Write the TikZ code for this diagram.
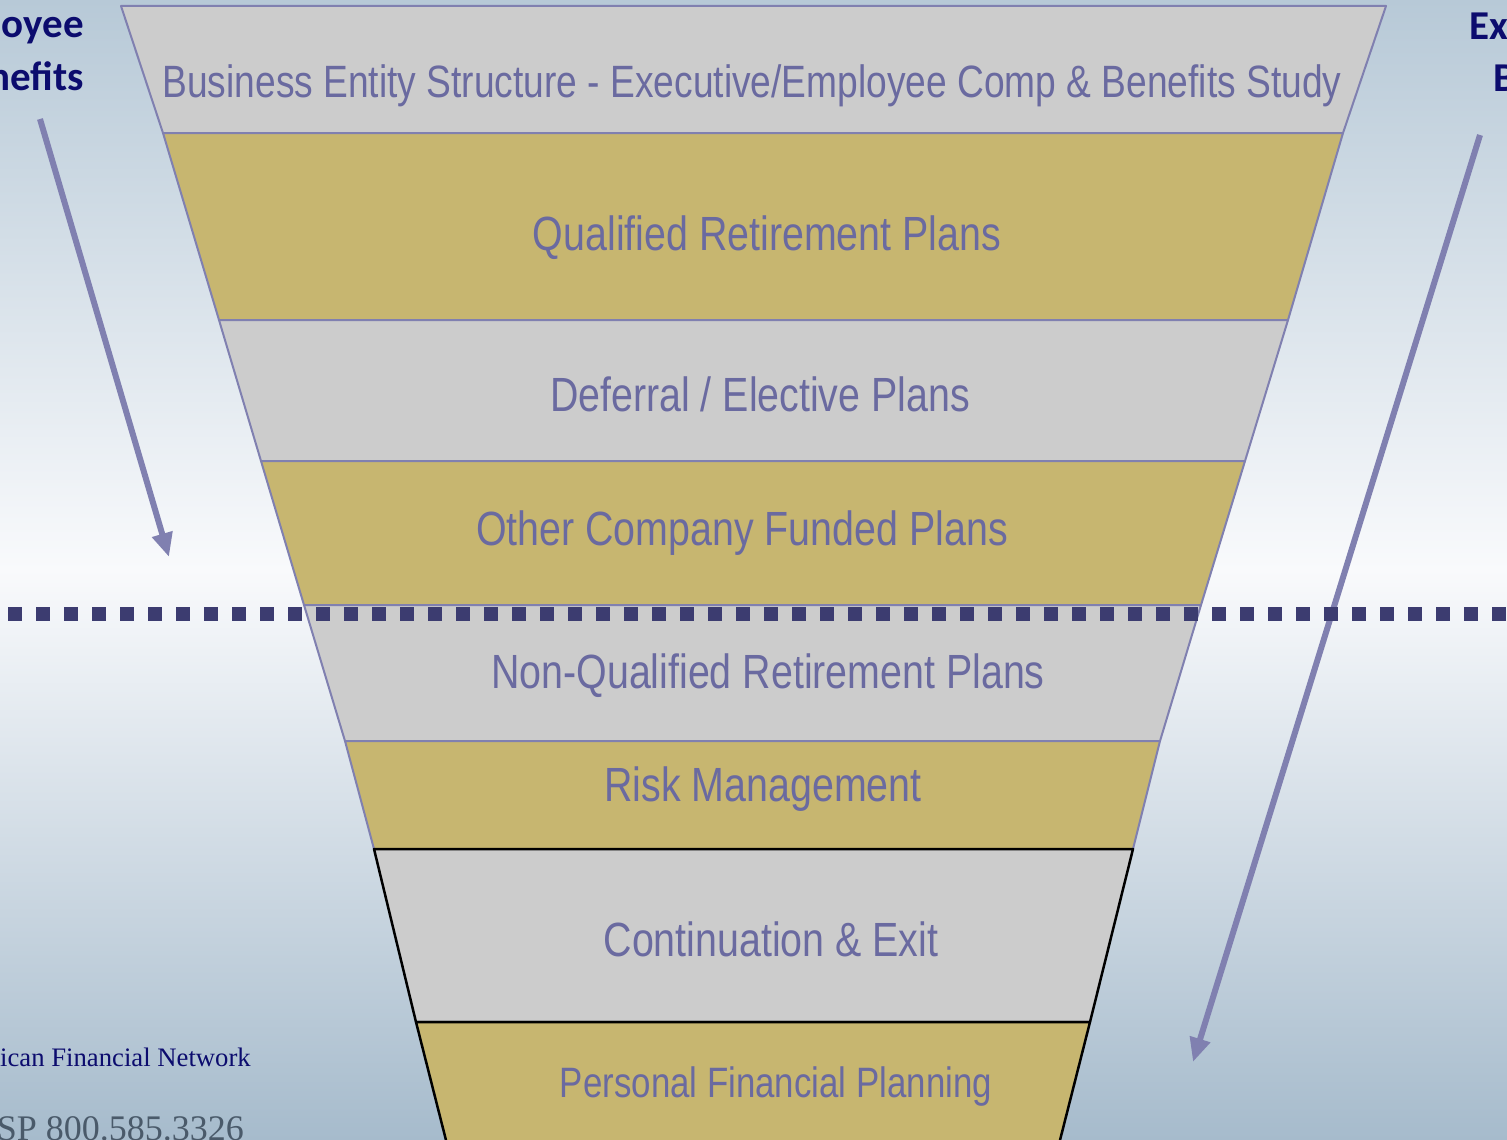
\documentclass[tikz,border=0pt]{standalone}
\usepackage{fontspec}
\usetikzlibrary{arrows.meta}
\newfontfamily\narfont[FakeStretch=0.82]{Liberation Sans}
\newfontfamily\carlfont{Carlito}
\newfontfamily\lserfont{Liberation Serif}
\definecolor{bgtop}{RGB}{183,201,215}
\definecolor{bgmid}{RGB}{249,250,252}
\definecolor{bgbot}{RGB}{166,187,204}
\definecolor{goldband}{RGB}{199,182,112}
\definecolor{greyband}{RGB}{204,204,204}
\definecolor{edgec}{RGB}{128,128,176}
\definecolor{bandtext}{RGB}{106,106,160}
\definecolor{navyc}{RGB}{12,12,110}
\definecolor{dotc}{RGB}{60,60,112}
\definecolor{phonec}{RGB}{74,90,106}
\begin{document}
\begin{tikzpicture}[x=1pt,y=-1pt,
  band/.style={draw=edgec,line width=2pt,line join=round},
  gband/.style={band,fill=goldband},
  sband/.style={band,fill=greyband},
  kband/.style={draw=black,line width=2.5pt,line join=round},
  bandlabel/.style={inner sep=0pt,anchor=base,text=bandtext,font=\narfont\fontsize{48}{56}\selectfont},
  sidelabel/.style={inner sep=0pt,text=navyc,font=\carlfont\bfseries\fontsize{41}{48}\selectfont},
  arrowline/.style={draw=edgec,line width=6pt,-{Triangle[length=24pt,width=20pt]}},
  dotline/.style={draw=dotc,line width=14pt,dash pattern=on 14pt off 14pt}
]
\useasboundingbox (0,0) rectangle (1507,1140);
\clip (0,0) rectangle (1507,1140);
% background
\fill[top color=bgtop,bottom color=bgmid] (0,0) rectangle (1507,570);
\fill[top color=bgmid,bottom color=bgbot] (0,569) rectangle (1507,1140);
% funnel bands
\draw[sband] (121,6) -- (1386,6) -- (1343,133) -- (163,133) -- cycle;
\draw[gband] (163,133) -- (1343,133) -- (1288,320) -- (219,320) -- cycle;
\draw[sband] (219,320) -- (1288,320) -- (1245,461) -- (261,461) -- cycle;
\draw[gband] (261,461) -- (1245,461) -- (1201,605) -- (304,605) -- cycle;
\draw[sband] (304,605) -- (1201,605) -- (1160,741) -- (345,741) -- cycle;
\draw[gband] (345,741) -- (1160,741) -- (1133,849) -- (374,849) -- cycle;
\draw[kband,fill=greyband] (374,849) -- (1133,849) -- (1090,1022) -- (416,1022) -- cycle;
\draw[kband,fill=goldband] (416,1022) -- (1090,1022) -- (1057,1152) -- (449,1152) -- cycle;
% band labels
\node[bandlabel,font=\narfont\fontsize{45.3}{52}\selectfont] (t1) at (752,97) {Business Entity Structure - Executive/Employee Comp \& Benefits Study};
\node[bandlabel] (t2) at (767,250) {Qualified Retirement Plans};
\node[bandlabel] (t3) at (760,411) {Deferral / Elective Plans};
\node[bandlabel] (t4) at (742,545) {Other Company Funded Plans};
\node[bandlabel] (t5) at (768,688) {Non-Qualified Retirement Plans};
\node[bandlabel] (t6) at (763,801) {Risk Management};
\node[bandlabel] (t7) at (771,956) {Continuation \& Exit};
\node[bandlabel,font=\narfont\fontsize{42.5}{50}\selectfont] (t8) at (776,1097) {Personal Financial Planning};
% side labels
\node[sidelabel,anchor=base east] (l1) at (84,38) {oyee};
\node[sidelabel,anchor=base east] (l2) at (84,91) {nefits};
\node[sidelabel,anchor=base west] (r1) at (1469,40) {Ex};
\node[sidelabel,anchor=base west] (r2) at (1493,92) {B};
% footer
\node[inner sep=0pt,anchor=base west,text=navyc,font=\lserfont\fontsize{26.7}{30}\selectfont] (f1) at (0,1066) {ican Financial Network};
\node[inner sep=0pt,anchor=base east,text=phonec,font=\lserfont\fontsize{36}{40}\selectfont] (f2) at (244,1140) {SP 800.585.3326};
% arrows
\coordinate (la0) at (40,119);
\coordinate (la1) at (169,557);
\coordinate (ra0) at (1480,135);
\coordinate (ra1) at (1193,1062);
\draw[arrowline] (la0) -- (la1);
\draw[arrowline] (ra0) -- (ra1);
% dotted divider
\coordinate (dl) at (8,614);
\coordinate (dr) at (1530,614);
\draw[dotline] (dl) -- (dr);
\end{tikzpicture}
\end{document}
